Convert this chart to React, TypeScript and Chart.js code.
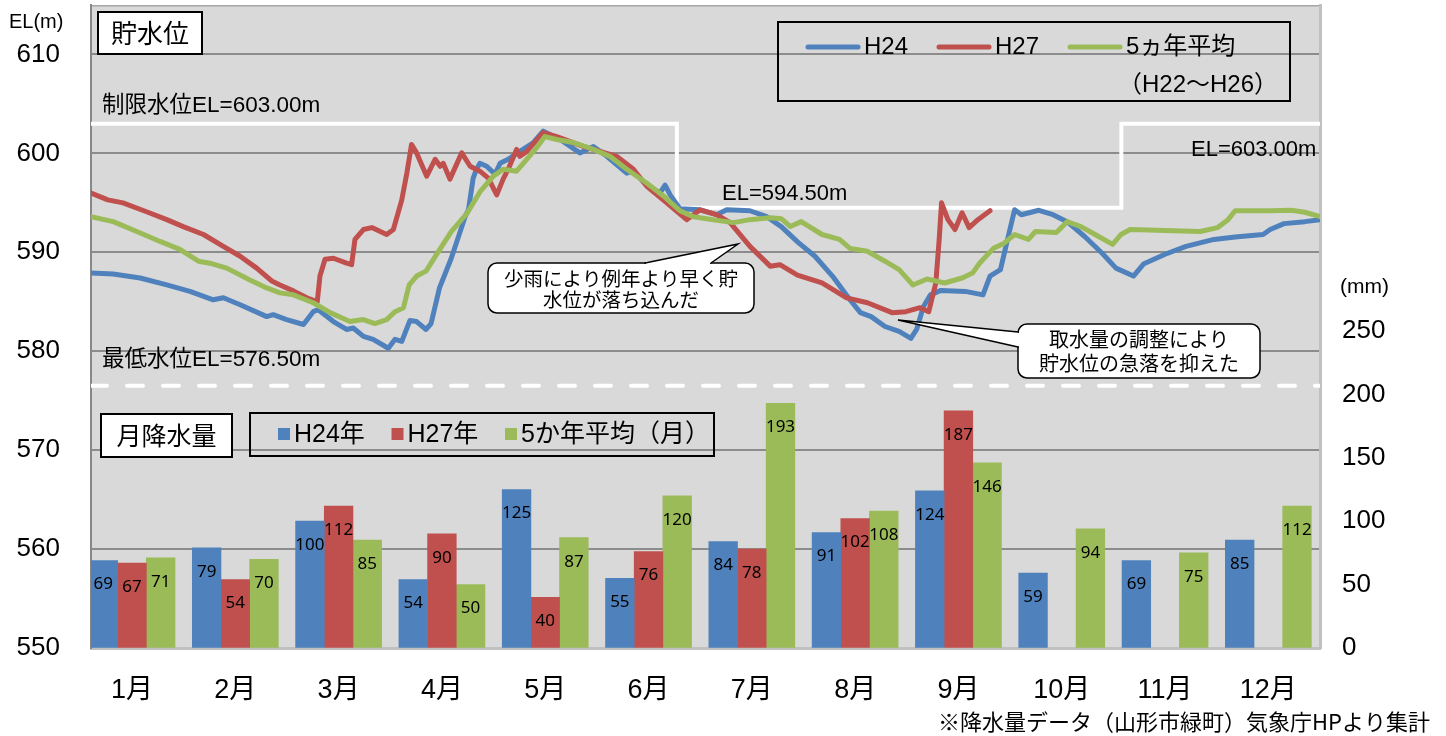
import React, { useEffect, useRef } from "react";
import { Chart, registerables } from "chart.js";

Chart.register(...registerables);

const W = 1446;
const H = 736;
const LATIN = "'Liberation Sans', 'Noto Sans CJK JP', sans-serif";
const JP = "'Noto Sans CJK JP', 'Liberation Sans', sans-serif";
const NUM = "'Noto Sans', 'Liberation Sans', sans-serif";
const BLUE = "#4f81bd";
const RED = "#c0504d";
const GREEN = "#9bbb59";

// ---- categories / ticks ----
const months = ["1月", "2月", "3月", "4月", "5月", "6月", "7月", "8月", "9月", "10月", "11月", "12月"];
const leftTicks = [550, 560, 570, 580, 590, 600, 610];
const rightTicks = [0, 50, 100, 150, 200, 250];

// ---- monthly rainfall (mm) ----
const rainH24 = [69, 79, 100, 54, 125, 55, 84, 91, 124, 59, 69, 85];
const rainH27 = [67, 54, 112, 90, 40, 76, 78, 102, 187, null, null, null];
const rainAvg = [71, 70, 85, 50, 87, 120, 193, 108, 146, 94, 75, 112];

// ---- reservoir level (EL m) by day of year ----
const h24Days = [0, 6.6, 14.6, 22.5, 29.4, 36.3, 39.3, 44.3, 52.2, 54.1, 58.1, 63.1, 66, 67.5, 72, 75.9, 77.9, 80.9, 83.8, 88.3, 90.3, 92.3, 94.7, 96.7, 99.5, 101, 103.5, 107, 111.1, 112.1, 113.5, 114.5, 115.5, 117.5, 120, 121.5, 123.9, 127.4, 131.4, 134.3, 139.3, 145.2, 149.2, 153.2, 159.1, 161.1, 165, 169, 170.5, 172, 174.9, 180.9, 185.8, 188.8, 195.7, 200.7, 205, 210, 215, 220.2, 225.4, 228.5, 231.7, 235.8, 240, 243.5, 245.2, 247.2, 249.3, 252.4, 259.7, 264.9, 267, 270.1, 272.2, 274.3, 276.3, 281.5, 285.7, 289.9, 295.1, 300.3, 304.4, 309.6, 312.7, 319, 325.2, 333.5, 339.8, 348.1, 350.2, 354.3, 360.5, 365];
const h24Level = [587.9, 587.8, 587.4, 586.7, 586.05, 585.2, 585.4, 584.7, 583.5, 583.7, 583.2, 582.7, 584.0, 584.2, 583.0, 582.2, 582.35, 581.5, 581.2, 580.3, 581.2, 581.0, 583.1, 583.0, 582.2, 582.8, 586.4, 589.4, 593.6, 594.3, 597.5, 598.4, 599.0, 598.7, 597.9, 599.0, 599.4, 600.2, 601.1, 602.25, 601.4, 600.05, 600.7, 599.7, 598.0, 598.2, 596.8, 596.0, 596.8, 595.8, 594.4, 594.3, 593.8, 594.3, 594.2, 593.6, 592.6, 591.0, 589.6, 587.6, 585.2, 583.9, 583.5, 582.5, 582.0, 581.3, 582.2, 584.5, 585.7, 586.15, 586.05, 585.7, 587.6, 588.25, 591.3, 594.3, 593.8, 594.25, 593.8, 593.1, 591.6, 589.9, 588.4, 587.6, 588.85, 589.8, 590.6, 591.3, 591.55, 591.8, 592.3, 592.9, 593.1, 593.3];

const h27Days = [0, 5, 9.5, 16.5, 22.5, 27.4, 33.4, 39.3, 44.3, 49.2, 53.7, 56.1, 60.1, 64.1, 67.2, 68, 69.5, 72, 75.9, 77.4, 78.4, 80.9, 83.4, 87.8, 89.8, 92.3, 93.8, 95.2, 96.7, 99.7, 102.2, 103.7, 104.6, 106.6, 110.1, 112.6, 115.5, 118, 120.5, 122.4, 123.9, 126.4, 127.4, 129.4, 134.3, 138.3, 146.2, 156.1, 161.1, 165, 171, 176.9, 180.9, 185.8, 189.8, 195.7, 201.7, 204.6, 209.8, 217.1, 224.4, 230.6, 237.9, 242, 246.2, 248.8, 250.9, 251.9, 252.6, 254.5, 256.6, 258.7, 260.8, 263.4, 267];
const h27Level = [596.0, 595.3, 595.0, 594.1, 593.3, 592.6, 591.8, 590.6, 589.6, 588.4, 587.1, 586.7, 586.1, 585.4, 585.0, 587.6, 589.3, 589.4, 588.9, 588.75, 591.3, 592.3, 592.5, 591.8, 592.3, 595.3, 598.0, 600.9, 600.05, 597.7, 599.4, 598.7, 599.0, 597.4, 600.05, 598.7, 598.2, 597.5, 595.8, 597.4, 598.4, 600.4, 599.7, 600.2, 602.1, 601.7, 600.7, 599.7, 598.4, 596.7, 595.0, 593.3, 594.3, 593.8, 593.0, 590.6, 588.6, 588.75, 587.7, 586.9, 585.4, 584.9, 583.9, 584.0, 584.4, 584.0, 586.9, 591.3, 595.0, 593.3, 592.3, 594.0, 592.5, 593.3, 594.2];

const avgDays = [0, 6.6, 13.6, 20.5, 26.4, 31.9, 35.3, 40.3, 47.2, 52.2, 56.1, 60.1, 66, 71, 76.9, 80.9, 84.3, 87.8, 90.3, 92.8, 94.5, 96.7, 99.5, 103.2, 107, 111.6, 115.5, 119.5, 122.4, 126.4, 129.4, 132.4, 134.8, 138.3, 143.2, 149.2, 154.1, 159.1, 165, 170, 174.9, 178.9, 184.8, 190.8, 195.7, 201.7, 205, 207.7, 210.9, 217.1, 222.3, 225.4, 230.6, 235.8, 240, 244.1, 248.3, 253.5, 258.7, 261.8, 263.9, 268, 271.1, 274.3, 278.4, 280.5, 286.7, 289.9, 294, 298.2, 303.4, 305.9, 308.6, 319, 329.4, 334.6, 337.7, 339.8, 350.2, 356.4, 360.5, 365];
const avgLevel = [593.6, 593.1, 592.1, 591.1, 590.3, 589.1, 588.9, 588.4, 587.2, 586.4, 585.9, 585.7, 584.9, 583.9, 583.0, 583.2, 582.8, 583.2, 584.0, 584.4, 586.7, 587.6, 588.1, 590.1, 592.1, 593.9, 596.1, 597.7, 598.4, 598.2, 599.4, 600.6, 601.7, 601.4, 601.1, 600.4, 599.7, 598.4, 597.0, 595.7, 594.2, 593.6, 593.3, 593.0, 593.3, 593.5, 593.4, 592.6, 593.1, 591.8, 591.3, 590.4, 590.1, 589.1, 588.25, 586.7, 587.3, 586.9, 587.4, 587.9, 588.9, 590.4, 590.9, 591.8, 591.3, 592.1, 592.0, 593.1, 592.6, 591.8, 590.8, 591.8, 592.3, 592.2, 592.1, 592.5, 593.3, 594.2, 594.2, 594.25, 594.05, 593.6];

// restricted water level (step) and minimum water level
const limitDays = [0, 174, 174, 306, 306, 365];
const limitLevel = [603, 603, 594.5, 594.5, 603, 603];
const minDays = [0, 365];
const minLevel = [576.5, 576.5];

// ---- texts ----
const lineLegend = ["H24", "H27", "5ヵ年平均"];
const lineLegendSub = "（H22〜H26）";
const barLegend = ["H24年", "H27年", "5か年平均（月）"];
const callout1 = ["少雨により例年より早く貯", "水位が落ち込んだ"];
const callout2 = ["取水量の調整により", "貯水位の急落を抑えた"];
const footnote = "※降水量データ（山形市緑町）気象庁HPより集計";

// bar slot layout within a month (3 bars side by side)
const SLOT = 0.2775;

const pts = (days: number[], vals: number[]) => days.map((d, i) => ({ x: d, y: vals[i] }));
const bars = (vals: (number | null)[], slot: number) =>
  vals.map((v, i) => ({ x: i + 1 + (slot - 1) * SLOT, y: v }));

function text(ctx: CanvasRenderingContext2D, s: string, x: number, y: number, font: string, align: CanvasTextAlign = "left") {
  ctx.font = font;
  ctx.textAlign = align;
  ctx.textBaseline = "middle";
  ctx.fillStyle = "#000";
  ctx.fillText(s, x, y);
}

function roundRect(ctx: CanvasRenderingContext2D, x: number, y: number, w: number, h: number, r: number) {
  ctx.beginPath();
  ctx.moveTo(x + r, y);
  ctx.lineTo(x + w - r, y);
  ctx.arcTo(x + w, y, x + w, y + r, r);
  ctx.lineTo(x + w, y + h - r);
  ctx.arcTo(x + w, y + h, x + w - r, y + h, r);
  ctx.lineTo(x + r, y + h);
  ctx.arcTo(x, y + h, x, y + h - r, r);
  ctx.lineTo(x, y + r);
  ctx.arcTo(x, y, x + r, y, r);
  ctx.closePath();
}

function App() {
  const ref = useRef<HTMLCanvasElement>(null);

  useEffect(() => {
    const canvas = ref.current;
    if (!canvas) return;

    const decor = {
      id: "decor",
      beforeDraw(chart: any) {
        const { ctx, chartArea: a } = chart;
        ctx.save();
        ctx.fillStyle = "#d9d9d9";
        ctx.fillRect(a.left, a.top, a.right - a.left, a.bottom - a.top);
        ctx.strokeStyle = "#a6a6a6";
        ctx.lineWidth = 1.5;
        ctx.beginPath();
        ctx.moveTo(a.left, a.top + 0.75);
        ctx.lineTo(a.right, a.top + 0.75);
        ctx.stroke();
        ctx.restore();
      },
      afterDatasetsDraw(chart: any) {
        const ctx = chart.ctx;
        ctx.save();
        chart.data.datasets.forEach((ds: any, di: number) => {
          if (ds.type !== "bar") return;
          const meta = chart.getDatasetMeta(di);
          meta.data.forEach((el: any, i: number) => {
            const v = ds.data[i].y;
            if (v == null) return;
            text(ctx, String(v), el.x, el.y + 24, `17px ${NUM}`, "center");
          });
        });
        ctx.restore();
      },
      afterDraw(chart: any) {
        const ctx: CanvasRenderingContext2D = chart.ctx;
        ctx.save();

        // axis titles
        text(ctx, "EL(m)", 9, 22, `20px ${LATIN}`);
        text(ctx, "(mm)", 1340, 287, `21px ${LATIN}`);

        // 貯水位 box
        ctx.fillStyle = "#fff";
        ctx.fillRect(98, 12, 104, 42);
        ctx.strokeStyle = "#000";
        ctx.lineWidth = 2;
        ctx.strokeRect(98, 12, 104, 42);
        text(ctx, "貯水位", 150, 33, `26px ${JP}`, "center");

        // level labels
        text(ctx, "制限水位EL=603.00m", 102, 106, `22.5px ${LATIN}`);
        text(ctx, "最低水位EL=576.50m", 102, 360, `22.5px ${LATIN}`);
        text(ctx, "EL=594.50m", 722, 194, `22px ${LATIN}`);
        text(ctx, "EL=603.00m", 1191, 150, `22px ${LATIN}`);

        // line legend
        ctx.strokeStyle = "#000";
        ctx.lineWidth = 2;
        ctx.strokeRect(778, 22, 512, 79);
        const legX = [806, 937, 1068];
        const legC = [BLUE, RED, GREEN];
        legX.forEach((x, i) => {
          ctx.strokeStyle = legC[i];
          ctx.lineWidth = 5;
          ctx.lineCap = "round";
          ctx.beginPath();
          ctx.moveTo(x + 2, 47);
          ctx.lineTo(x + 52, 47);
          ctx.stroke();
          text(ctx, lineLegend[i], x + 58, 47, `24px ${LATIN}`);
        });
        text(ctx, lineLegendSub, 1118, 85, `24px ${LATIN}`);

        // 月降水量 box
        ctx.fillStyle = "#fff";
        ctx.fillRect(101, 414, 131, 43);
        ctx.strokeStyle = "#000";
        ctx.lineWidth = 2;
        ctx.strokeRect(101, 414, 131, 43);
        text(ctx, "月降水量", 166.5, 435.5, `25px ${JP}`, "center");

        // bar legend
        ctx.strokeRect(250, 413, 464, 43);
        const bx = [278, 391.5, 505];
        bx.forEach((x, i) => {
          ctx.fillStyle = legC[i];
          ctx.fillRect(x, 428, 12, 12);
          text(ctx, barLegend[i], x + 16, 435, `25px ${LATIN}`);
        });

        // callout 1
        ctx.lineWidth = 1.5;
        ctx.strokeStyle = "#000";
        ctx.fillStyle = "#fff";
        roundRect(ctx, 488, 263, 266, 50, 9);
        ctx.fill();
        ctx.stroke();
        ctx.beginPath();
        ctx.moveTo(645, 263);
        ctx.lineTo(738, 244);
        ctx.lineTo(711, 263);
        ctx.closePath();
        ctx.fill();
        ctx.fillRect(646, 261, 64, 4);
        ctx.beginPath();
        ctx.moveTo(645, 263);
        ctx.lineTo(738, 244);
        ctx.lineTo(711, 263);
        ctx.stroke();
        text(ctx, callout1[0], 621, 279, `19.5px ${JP}`, "center");
        text(ctx, callout1[1], 621, 300, `19.5px ${JP}`, "center");

        // callout 2
        ctx.fillStyle = "#fff";
        roundRect(ctx, 1018, 324, 242, 54, 9);
        ctx.fill();
        ctx.stroke();
        ctx.beginPath();
        ctx.moveTo(1018, 332);
        ctx.lineTo(898, 320);
        ctx.lineTo(1018, 347);
        ctx.closePath();
        ctx.fill();
        ctx.fillRect(1016, 333, 4, 13);
        ctx.beginPath();
        ctx.moveTo(1018, 332);
        ctx.lineTo(898, 320);
        ctx.lineTo(1018, 347);
        ctx.stroke();
        text(ctx, callout2[0], 1139, 339, `20px ${JP}`, "center");
        text(ctx, callout2[1], 1139, 363, `20px ${JP}`, "center");

        // footnote
        text(ctx, footnote, 1430, 722, `22px ${JP}`, "right");

        ctx.restore();
      },
    };

    const lineBase = {
      type: "line" as const,
      xAxisID: "xd",
      yAxisID: "y",
      pointRadius: 0,
      borderWidth: 5,
      tension: 0,
      borderJoinStyle: "round" as const,
      borderCapStyle: "round" as const,
      fill: false,
    };
    const barBase = {
      type: "bar" as const,
      xAxisID: "x",
      yAxisID: "y1",
      grouped: false,
      categoryPercentage: 1,
      barPercentage: 1,
      order: 6,
    };

    const chart = new Chart(canvas, {
      type: "bar",
      data: {
        datasets: [
          { ...lineBase, label: "5ヵ年平均", data: pts(avgDays, avgLevel), borderColor: GREEN, order: 1 },
          { ...lineBase, label: "H27", data: pts(h27Days, h27Level), borderColor: RED, order: 2 },
          { ...lineBase, label: "H24", data: pts(h24Days, h24Level), borderColor: BLUE, order: 3 },
          { ...lineBase, label: "制限水位", data: pts(limitDays, limitLevel), borderColor: "#ffffff", borderWidth: 4, borderCapStyle: "butt", borderJoinStyle: "miter", order: 4 },
          { ...lineBase, label: "最低水位", data: pts(minDays, minLevel), borderColor: "#ffffff", borderWidth: 4, borderDash: [16, 20], order: 5 },
          { ...barBase, label: "H24年", data: bars(rainH24, 0), backgroundColor: BLUE },
          { ...barBase, label: "H27年", data: bars(rainH27, 1), backgroundColor: RED },
          { ...barBase, label: "5か年平均（月）", data: bars(rainAvg, 2), backgroundColor: GREEN },
        ] as any,
      },
      options: {
        responsive: false,
        animation: false,
        devicePixelRatio: 1,
        events: [],
        layout: { padding: { top: 5, left: 0, right: 0, bottom: 0 } },
        plugins: { legend: { display: false }, tooltip: { enabled: false } },
        scales: {
          x: {
            type: "linear",
            position: "bottom",
            min: 0.603,
            max: 12.5,
            offset: false,
            afterBuildTicks: (s: any) => {
              s.ticks = months.map((_, i) => ({ value: i + 1 }));
            },
            afterFit: (s: any) => {
              s.height = 88;
              s.paddingLeft = 0;
              s.paddingRight = 0;
            },
            ticks: {
              autoSkip: false,
              maxRotation: 0,
              padding: 26,
              color: "#000",
              font: { size: 27, family: LATIN },
              callback: (v: any) => months[Math.round(v) - 1] ?? "",
            },
            grid: { display: false, drawTicks: false, offset: false },
            border: { display: true, color: "#c0c0c0", width: 3 },
          },
          xd: {
            type: "linear",
            axis: "x",
            display: false,
            min: 0,
            max: 365,
            offset: false,
            grid: { offset: false },
          },
          y: {
            type: "linear",
            position: "left",
            min: 550,
            max: 615,
            afterBuildTicks: (s: any) => {
              s.ticks = leftTicks.map((v) => ({ value: v }));
            },
            afterFit: (s: any) => {
              s.width = 91;
              s.paddingTop = 0;
              s.paddingBottom = 0;
            },
            ticks: { padding: 31, color: "#000", font: { size: 26, family: LATIN } },
            grid: {
              drawTicks: false,
              lineWidth: 2,
              color: (c: any) => (c.tick && c.tick.value === 550 ? "rgba(0,0,0,0)" : "#8c8c8c"),
            },
            border: { display: true, color: "#888888", width: 2 },
          },
          y1: {
            type: "linear",
            position: "right",
            min: 0,
            max: 507,
            afterBuildTicks: (s: any) => {
              s.ticks = rightTicks.map((v) => ({ value: v }));
            },
            afterFit: (s: any) => {
              s.width = 126;
              s.paddingTop = 0;
              s.paddingBottom = 0;
            },
            ticks: { padding: 22, color: "#000", font: { size: 26, family: LATIN } },
            grid: { drawOnChartArea: false, drawTicks: false },
            border: { display: true, color: "#c0c0c0", width: 3 },
          },
        } as any,
      },
      plugins: [decor],
    });

    return () => chart.destroy();
  }, []);

  return (
    <div style={{ position: "absolute", left: 0, top: 0, width: W, height: H, background: "#fff" }}>
      <canvas ref={ref} width={W} height={H} style={{ display: "block", width: W, height: H }} />
    </div>
  );
}

export default App;
